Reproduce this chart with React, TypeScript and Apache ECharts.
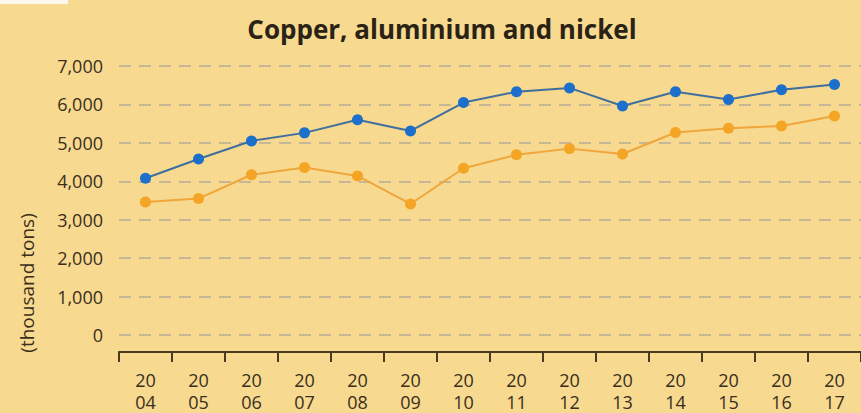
import React, { useEffect, useRef } from "react";
import * as echarts from "echarts";

const years = ["2004", "2005", "2006", "2007", "2008", "2009", "2010", "2011", "2012", "2013", "2014", "2015", "2016", "2017"];
const blueValues = [4080, 4580, 5050, 5260, 5600, 5310, 6050, 6330, 6430, 5960, 6330, 6130, 6380, 6520];
const orangeValues = [3460, 3550, 4170, 4360, 4140, 3410, 4340, 4690, 4850, 4710, 5270, 5380, 5440, 5700];
const yTicks = { min: 0, max: 7000, interval: 1000 };

const FONT = "'Open Sans', 'Noto Sans', sans-serif";
const TEXT = "#3a2e1c";

export default function App() {
  const ref = useRef<HTMLDivElement>(null);
  useEffect(() => {
    if (!ref.current) return;
    const chart = echarts.init(ref.current, undefined, { renderer: "svg" });
    chart.setOption({
      animation: false,
      backgroundColor: "#f7d98f",
      textStyle: { fontFamily: FONT },
      title: {
        text: "Copper, aluminium and nickel",
        left: 437,
        textAlign: "center",
        top: 11,
        textStyle: { fontFamily: FONT, fontSize: 26, fontWeight: "bold", color: "#2a2214" },
      },
      graphic: [
        { type: "rect", shape: { x: 0, y: 0, width: 68, height: 4 }, style: { fill: "#fbf6ee" } },
        {
          type: "text",
          x: 27,
          y: 283,
          rotation: Math.PI / 2,
          style: {
            text: "(thousand tons)",
            font: `19px ${FONT}`,
            fill: TEXT,
            align: "center",
            verticalAlign: "middle",
          },
        },
      ],
      grid: { left: 119, right: -11, top: 66, bottom: 78, containLabel: false },
      xAxis: {
        type: "category",
        data: years,
        boundaryGap: true,
        offset: 17,
        axisLine: { onZero: false, lineStyle: { color: "#4a3a20", width: 2 } },
        axisTick: { show: true, length: 10, lineStyle: { color: "#4a3a20", width: 2 } },
        axisLabel: {
          formatter: (v: string) => v.slice(0, 2) + "\n" + v.slice(2),
          fontSize: 18,
          lineHeight: 22,
          color: TEXT,
          margin: 17,
          fontFamily: FONT,
        },
        splitLine: { show: false },
      },
      yAxis: {
        type: "value",
        min: yTicks.min,
        max: yTicks.max,
        interval: yTicks.interval,
        axisLine: { show: false },
        axisTick: { show: false },
        axisLabel: {
          fontSize: 18,
          color: TEXT,
          margin: 16,
          fontFamily: FONT,
          formatter: (v: number) => v.toLocaleString("en-US"),
        },
        splitLine: { lineStyle: { color: "#c6b796", width: 2, type: [12, 8] } },
      },
      series: [
        {
          type: "line",
          data: blueValues,
          symbol: "circle",
          symbolSize: 11,
          lineStyle: { color: "#406e9e", width: 2 },
          itemStyle: { color: "#1c6fca" },
        },
        {
          type: "line",
          data: orangeValues,
          symbol: "circle",
          symbolSize: 11,
          lineStyle: { color: "#f0a63a", width: 2 },
          itemStyle: { color: "#f4a525" },
        },
      ],
    });
    return () => chart.dispose();
  }, []);
  return <div ref={ref} style={{ position: "fixed", left: 0, top: 0, width: 861, height: 413 }} />;
}
